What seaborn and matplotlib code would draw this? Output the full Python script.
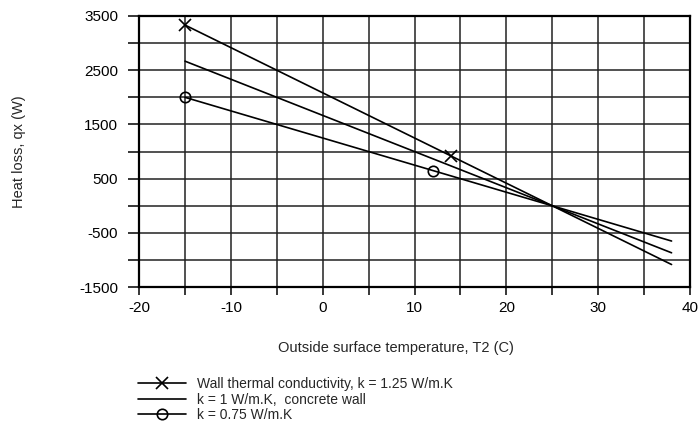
import numpy as np
import pandas as pd
import matplotlib
matplotlib.use("Agg")
import matplotlib.pyplot as plt
import seaborn as sns

# valores (T2 em C, qx em W)
t2_k125 = [-15, 14, 38]
q_k125 = [3333, 917, -1083]

t2_k100 = [-15, 38]
q_k100 = [2667, -867]

t2_k075 = [-15, 12, 38]
q_k075 = [2000, 650, -650]

labels = ["Wall thermal conductivity, k = 1.25 W/m.K",
          "k = 1 W/m.K,  concrete wall",
          "k = 0.75 W/m.K"]

xticks = [-20, -10, 0, 10, 20, 30, 40]
yticks = [-1500, -500, 500, 1500, 2500, 3500]

sns.set_style("white")
plt.rcParams['font.family'] = ['Liberation Sans', 'DejaVu Sans']
plt.rcParams['axes.unicode_minus'] = False

fig = plt.figure(figsize=(6.99, 4.21), dpi=100)
ax = fig.add_axes([0.199, 0.318, 0.788, 0.644])

sns.lineplot(x=t2_k125, y=q_k125, ax=ax, color='black', lw=1.2,
             marker='x', markersize=8, markeredgecolor='black',
             markeredgewidth=1.2, markevery=[0, 1], label=labels[0])
sns.lineplot(x=t2_k100, y=q_k100, ax=ax, color='black', lw=1.2,
             label=labels[1])
sns.lineplot(x=t2_k075, y=q_k075, ax=ax, color='black', lw=1.2,
             marker='o', markersize=7.5, markerfacecolor='none',
             markeredgecolor='black', markeredgewidth=1.2, markevery=[0, 1],
             label=labels[2])

ax.set_xlim(-20, 40)
ax.set_ylim(-1500, 3500)
ax.set_xticks(xticks)
ax.set_xticks(np.arange(-15, 40, 10), minor=True)
ax.set_yticks(yticks)
ax.set_yticks(np.arange(-1000, 3500, 1000), minor=True)
ax.grid(True, which='both', color='#222222', lw=1.1)
ax.set_axisbelow(True)

for s in ax.spines.values():
    s.set_color('black')
    s.set_linewidth(1.6)

ax.tick_params(axis='x', which='both', direction='out', length=6, width=1.1,
               colors='black', labelsize=11, pad=4, bottom=True)
ax.tick_params(axis='y', which='both', direction='out', length=8, width=1.1,
               colors='black', labelsize=11, pad=7, left=True)

ax.set_xlabel("Outside surface temperature, T2 (C)", fontsize=10.5)
ax.set_ylabel("Heat loss, qx (W)", fontsize=10.5)
ax.xaxis.set_label_coords(0.466, -0.197)
ax.yaxis.set_label_coords(-0.205, 0.5)

leg = ax.legend(loc='upper left', bbox_to_anchor=(0.187, 0.121),
                bbox_transform=fig.transFigure, frameon=False, fontsize=10,
                handlelength=3.5, labelspacing=0.11, handletextpad=0.75,
                borderpad=0)

fig.savefig("out.png", dpi=100)
